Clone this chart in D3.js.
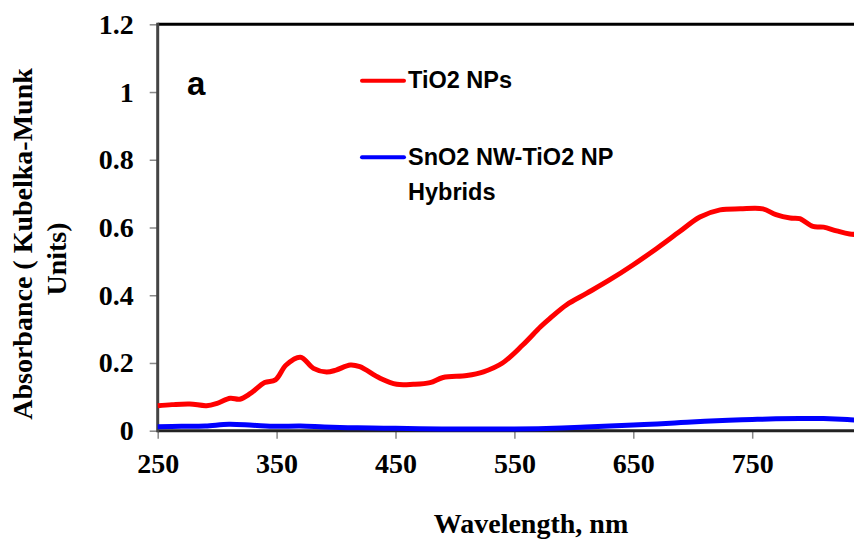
<!DOCTYPE html>
<html><head><meta charset="utf-8">
<script src="https://cdn.jsdelivr.net/npm/d3@7"></script>
<style>
html,body{margin:0;padding:0;background:#fff;overflow:hidden}
svg{display:block}
</style></head>
<body>
<svg id="chart" width="854" height="542"></svg>
<script>
const xTicks = [250, 350, 450, 550, 650, 750];
const yTicks = [0, 0.2, 0.4, 0.6, 0.8, 1, 1.2];

const redWavelengths = [250,262,277,291,300,311,319,328,340,349,358,370,381,392,400,412,420,437,451,465,479,490,510,524,540,557,572,580,594,611,630,650,670,689,706,723,740,759,770,782,790,801,810,821,832,850];
const redValues = [0.074,0.077,0.079,0.074,0.081,0.096,0.093,0.110,0.142,0.150,0.194,0.217,0.184,0.173,0.179,0.194,0.189,0.155,0.137,0.137,0.142,0.157,0.163,0.174,0.200,0.253,0.307,0.332,0.372,0.406,0.445,0.490,0.539,0.588,0.631,0.652,0.655,0.655,0.638,0.628,0.626,0.603,0.601,0.590,0.581,0.578];

const blueWavelengths = [250,270,290,310,330,350,370,390,410,430,450,470,490,510,530,550,570,590,610,630,650,670,690,710,730,750,770,790,810,830,850];
const blueValues = [0.012,0.013,0.014,0.019,0.016,0.013,0.014,0.011,0.009,0.008,0.007,0.006,0.005,0.005,0.005,0.005,0.006,0.008,0.011,0.014,0.017,0.020,0.024,0.028,0.031,0.033,0.035,0.036,0.036,0.033,0.027];

const seriesNames = ["TiO2 NPs", "SnO2 NW-TiO2 NP", "Hybrids"];

const svg = d3.select("#chart");
const x = d3.scaleLinear().domain([250, 850]).range([157.7, 157.7 + 600 * 1.189]);
const y = d3.scaleLinear().domain([0, 1.2]).range([430.7, 24.3]);

const serif = "'Liberation Serif','Times New Roman',serif";
const sans = "'Liberation Sans',Arial,sans-serif";

// top border
svg.append("line").attr("x1", x(250)).attr("x2", 860).attr("y1", y(1.2)).attr("y2", y(1.2))
  .attr("stroke", "#000").attr("stroke-width", 3);

// y axis
const yAxis = svg.append("g").attr("transform", `translate(${x(250)},0)`)
  .call(d3.axisLeft(y).tickValues(yTicks).tickSize(8).tickPadding(16).tickFormat(d => String(+d.toFixed(1))));
yAxis.select(".domain").remove();
yAxis.selectAll(".tick line").attr("stroke", "#888").attr("stroke-width", 1.5);
yAxis.selectAll(".tick text").attr("font-family", serif).attr("font-weight", "bold").attr("font-size", 28).attr("fill", "#000");

// x axis
const xAxis = svg.append("g").attr("transform", `translate(0,${y(0)})`)
  .call(d3.axisBottom(x).tickValues(xTicks).tickSize(8).tickPadding(14).tickFormat(d3.format("d")));
xAxis.select(".domain").remove();
xAxis.selectAll(".tick line").attr("stroke", "#888").attr("stroke-width", 1.5);
xAxis.selectAll(".tick text").attr("font-family", serif).attr("font-weight", "bold").attr("font-size", 28).attr("fill", "#000");

// axis lines
svg.append("line").attr("x1", x(250)).attr("x2", 860).attr("y1", y(0)).attr("y2", y(0))
  .attr("stroke", "#222").attr("stroke-width", 3);
svg.append("line").attr("x1", x(250)).attr("x2", x(250)).attr("y1", y(1.2) - 1.5).attr("y2", y(0) + 1.5)
  .attr("stroke", "#444").attr("stroke-width", 3);

// series
const line = d3.line().x(d => x(d[0])).y(d => y(d[1])).curve(d3.curveCatmullRom);
const redData = redWavelengths.map((w, i) => [w, redValues[i]]);
const blueData = blueWavelengths.map((w, i) => [w, blueValues[i]]);
svg.append("path").datum(blueData).attr("d", line).attr("fill", "none")
  .attr("stroke", "#0000ff").attr("stroke-width", 5).attr("stroke-linejoin", "round");
svg.append("path").datum(redData).attr("d", line).attr("fill", "none")
  .attr("stroke", "#ff0000").attr("stroke-width", 5).attr("stroke-linejoin", "round");

// legend
const lg = svg.append("g");
lg.append("line").attr("x1", 362).attr("x2", 404).attr("y1", 80.7).attr("y2", 80.7)
  .attr("stroke", "#ff0000").attr("stroke-width", 4).attr("stroke-linecap", "round");
lg.append("line").attr("x1", 362).attr("x2", 404).attr("y1", 157.3).attr("y2", 157.3)
  .attr("stroke", "#0000ff").attr("stroke-width", 4).attr("stroke-linecap", "round");
lg.append("text").attr("x", 408).attr("y", 88).text(seriesNames[0]);
lg.append("text").attr("x", 408).attr("y", 165).text(seriesNames[1]);
lg.append("text").attr("x", 408).attr("y", 200).text(seriesNames[2]);
lg.selectAll("text").attr("font-family", sans).attr("font-weight", "bold").attr("font-size", 23.5).attr("fill", "#000");

// panel label
svg.append("text").attr("x", 187).attr("y", 95).text("a")
  .attr("font-family", sans).attr("font-weight", "bold").attr("font-size", 33).attr("fill", "#000");

// axis titles
svg.append("text").attr("x", 531).attr("y", 533).attr("text-anchor", "middle").text("Wavelength, nm")
  .attr("font-family", serif).attr("font-weight", "bold").attr("font-size", 28).attr("fill", "#000");
svg.append("text").attr("transform", "translate(32,244) rotate(-90)").attr("text-anchor", "middle")
  .text("Absorbance ( Kubelka-Munk")
  .attr("font-family", serif).attr("font-weight", "bold").attr("font-size", 28).attr("fill", "#000");
svg.append("text").attr("transform", "translate(66,259) rotate(-90)").attr("text-anchor", "middle")
  .text("Units)")
  .attr("font-family", serif).attr("font-weight", "bold").attr("font-size", 28).attr("fill", "#000");
</script>
</body></html>
